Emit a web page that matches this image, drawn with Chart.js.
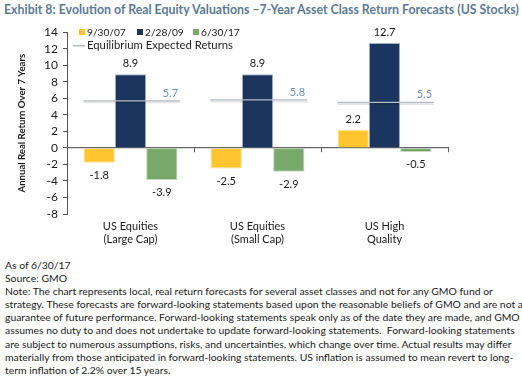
<!DOCTYPE html>
<html><head><meta charset="utf-8">
<script src="https://cdn.jsdelivr.net/npm/chart.js@4"></script>
<style>
html,body{margin:0;padding:0;background:#fff;width:522px;height:376px;overflow:hidden;font-family:Lato,"Open Sans",sans-serif;}
#title{position:absolute;left:4px;top:2px;font-weight:bold;font-size:12.35px;color:#5b7a93;white-space:nowrap}
#wrap{position:absolute;left:0;top:20px;width:522px;height:232px}
.lg{position:absolute;font-size:10.6px;color:#222;white-space:nowrap;line-height:14px}
.sw{position:absolute;width:6px;height:6px}
.ln{position:absolute;width:12px;height:1px;background:#b2bac3;box-shadow:0 1px 1px rgba(0,0,0,0.15)}
#notes{position:absolute;left:5px;top:259px;font-size:10.4px;line-height:13.1px;color:#1a1a1a;white-space:nowrap;font-family:Lato,sans-serif}
</style></head>
<body>
<div id="title">Exhibit 8: Evolution of Real Equity Valuations –7-Year Asset Class Return Forecasts (US Stocks)</div>
<div id="wrap"><canvas id="c" width="522" height="232"></canvas></div>
<div id="legend"></div>
<div id="notes">As of 6/30/17<br>Source: GMO<br>Note: The chart represents local, real return forecasts for several asset classes and not for any GMO fund or<br>strategy. These forecasts are forward-looking statements based upon the reasonable beliefs of GMO and are not a<br>guarantee of future performance. Forward-looking statements speak only as of the date they are made, and GMO<br>assumes no duty to and does not undertake to update forward-looking statements.&nbsp; Forward-looking statements<br>are subject to numerous assumptions, risks, and uncertainties, which change over time. Actual results may differ<br>materially from those anticipated in forward-looking statements. US inflation is assumed to mean revert to long-<br>term inflation of 2.2% over 15 years.</div>
<script>
const categories = [["US Equities","(Large Cap)"],["US Equities","(Small Cap)"],["US High","Quality"]];
const seriesNames = ["9/30/07","2/28/09","6/30/17"];
const s2007 = [-1.8,-2.5,2.2];
const s2009 = [8.9,8.9,12.7];
const s2017 = [-3.9,-2.9,-0.5];
const equilibrium = [5.7,5.8,5.5];
const eqName = "Equilibrium Expected Returns";
const colors = ["#FFC52F","#1C355E","#79A86B"];
const borderColors = ["#fde3a0","#a9b5c6","#c4d8bd"];

// legend (HTML text)
const lg = document.getElementById('legend');
const swX = [79,137,193];
let html = '';
seriesNames.forEach((n,i)=>{
  html += '<div class="sw" style="left:'+swX[i]+'px;top:29px;background:'+colors[i]+'"></div>';
  html += '<div class="lg" style="left:'+(swX[i]+8)+'px;top:25px;font-size:10.2px">'+n+'</div>';
});
html += '<div class="ln" style="left:73px;top:45px"></div>';
html += '<div class="lg" style="left:87px;top:38px;font-size:11.3px">'+eqName+'</div>';
lg.innerHTML = html;

const extras = {
  id:'extras',
  afterDatasetsDraw(chart){
    const ctx = chart.ctx, x = chart.scales.x, y = chart.scales.y;
    const catW = x.getPixelForValue(1) - x.getPixelForValue(0);
    equilibrium.forEach((v,i)=>{
      const cx = x.getPixelForValue(i);
      const x0 = cx - catW*0.37, x1 = cx + catW*0.39;
      const py = y.getPixelForValue(v);
      ctx.save();
      ctx.strokeStyle='rgba(0,0,0,0.10)'; ctx.lineWidth=2;
      ctx.beginPath(); ctx.moveTo(x0,py+1.5); ctx.lineTo(x1,py+1.5); ctx.stroke();
      ctx.strokeStyle='#b4bcc5'; ctx.lineWidth=1.2;
      ctx.beginPath(); ctx.moveTo(x0,py); ctx.lineTo(x1,py); ctx.stroke();
      ctx.fillStyle='#6a8fc0'; ctx.font='11px Lato'; ctx.textAlign='right'; ctx.textBaseline='bottom';
      ctx.fillText(v.toFixed(1), x1-2, py-2);
      ctx.restore();
    });
    ctx.save();
    ctx.font='11px Lato'; ctx.fillStyle='#1a1a1a'; ctx.textAlign='center';
    chart.data.datasets.forEach((ds,di)=>{
      const meta = chart.getDatasetMeta(di);
      meta.data.forEach((bar,i)=>{
        const v = ds.data[i];
        if (v>=0){ ctx.textBaseline='bottom'; ctx.fillText(v.toFixed(1), bar.x, bar.y-5); }
        else { ctx.textBaseline='top'; ctx.fillText(v.toFixed(1), bar.x, bar.y+7); }
      });
    });
    ctx.restore();
  }
};

new Chart(document.getElementById('c'), {
  type:'bar',
  data:{
    labels: categories,
    datasets:[s2007,s2009,s2017].map((d,i)=>({
      label: seriesNames[i], data:d, backgroundColor:colors[i],
      borderColor:borderColors[i], borderWidth:1,
      categoryPercentage:0.74, barPercentage:1.0
    }))
  },
  options:{
    responsive:false, animation:false,
    layout:{padding:{top:11,right:74,left:0,bottom:0}},
    plugins:{legend:{display:false},tooltip:{enabled:false}},
    scales:{
      y:{min:-8,max:14,
        afterFit(s){ s.width = 67; },
        ticks:{stepSize:2,autoSkip:false,color:'#1a1a1a',font:{family:'Lato',size:12},padding:5},
        grid:{display:true,drawOnChartArea:false,tickLength:4,color:'#555'},
        border:{color:'#555'},
        title:{display:true,text:'Annual Real Return Over 7 Years',color:'#1a1a1a',font:{family:'Lato',size:9.6,weight:'bold'},padding:{top:16,bottom:0}}
      },
      x:{position:{y:0},
        ticks:{display:false},
        grid:{offset:true,drawOnChartArea:false,tickLength:4,color:'#555'},
        border:{color:'#666',width:1.2}
      },
      x2:{type:'category',labels:categories,position:'bottom',
        afterFit(s){ s.height = 38; },
        ticks:{color:'#1a1a1a',font:{family:'Lato',size:11},padding:6},
        grid:{display:false,drawTicks:false},border:{display:false}
      }
    }
  },
  plugins:[extras]
});
</script>
</body></html>
